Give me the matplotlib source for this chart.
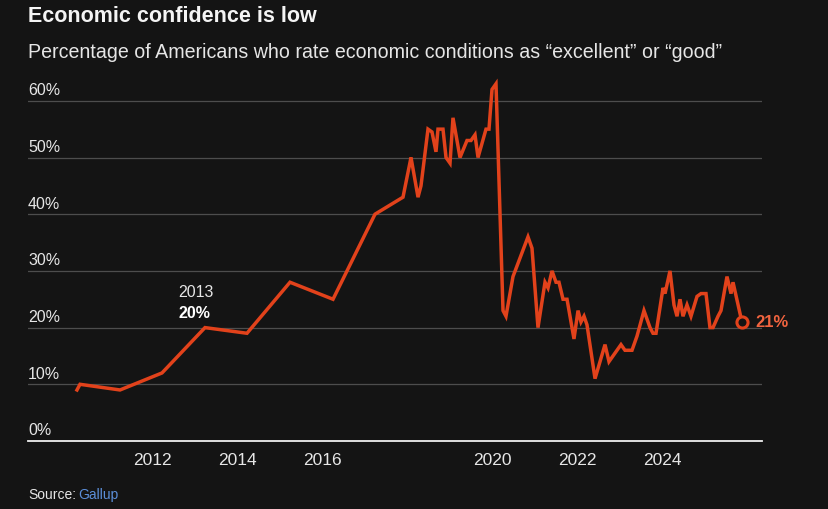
import matplotlib
matplotlib.use("Agg")
import matplotlib.pyplot as plt

years = [2010.235, 2010.306, 2011.247, 2012.235, 2013.247, 2014.235, 2015.247, 2016.259, 2017.247,
         2017.906, 2018.094, 2018.118, 2018.259, 2018.329, 2018.494, 2018.588, 2018.682, 2018.729,
         2018.847, 2018.918, 2019.012, 2019.082, 2019.247, 2019.412, 2019.506, 2019.600, 2019.671,
         2019.859, 2019.929, 2020.0, 2020.094, 2020.259, 2020.329, 2020.494, 2020.847, 2020.941,
         2021.082, 2021.247, 2021.318, 2021.412, 2021.506, 2021.576, 2021.671, 2021.765, 2021.929,
         2022.024, 2022.094, 2022.165, 2022.235, 2022.424, 2022.659, 2022.753, 2023.035, 2023.129,
         2023.294, 2023.412, 2023.576, 2023.718, 2023.788, 2023.859, 2024.024, 2024.071, 2024.188,
         2024.282, 2024.353, 2024.424, 2024.494, 2024.588, 2024.682, 2024.824, 2024.918, 2025.035,
         2025.129, 2025.2, 2025.318, 2025.388, 2025.529, 2025.624, 2025.671, 2025.88]
values = [9, 10, 9, 12, 20, 19, 28, 25, 40,
          43, 50, 49, 43, 45, 55, 54.5, 51, 55,
          55, 50, 49, 57, 50, 53, 53, 54, 50,
          55, 55, 62, 63, 23, 22, 29, 36, 34,
          20, 28, 27, 30, 28, 28, 25, 25, 18,
          23, 21, 22, 20.5, 11, 17, 14, 17, 16,
          16, 18.5, 23, 20, 19, 19, 27, 26, 30,
          24, 22, 25, 22, 24, 22, 25.5, 26, 26,
          20, 20, 22, 23, 29, 26, 28, 21]

tick_years = [2012, 2014, 2016, 2020, 2022, 2024]
tick_labels = ["2012", "2014", "2016", "2020", "2022", "2024"]
y_ticks = [0, 10, 20, 30, 40, 50, 60]
y_labels = ["0%", "10%", "20%", "30%", "40%", "50%", "60%"]

title = "Economic confidence is low"
subtitle = "Percentage of Americans who rate economic conditions as \u201cexcellent\u201d or \u201cgood\u201d"

regular = "Liberation Sans"

BG = "#141414"
LINE = "#e2421b"
TXT = "#e6e6e6"
GRID = "#4d4d4d"

W, H = 829, 510
fig = plt.figure(figsize=(W / 100, H / 100), dpi=100, facecolor=BG)
left, right, bottom_px, top_px = 28, 762, 442, 79
ax = fig.add_axes([left / W, 1 - bottom_px / H, (right - left) / W, (bottom_px - top_px) / H])
ax.set_facecolor(BG)

x0 = 2012 + (left - 152) / 42.5
x1 = 2012 + (right - 152) / 42.5
ax.set_xlim(x0, x1)
ax.set_ylim(0, (bottom_px - top_px) / 5.67)

for v in y_ticks[1:]:
    ax.axhline(v, color=GRID, lw=0.9, zorder=1)
for v, lab in zip(y_ticks, y_labels):
    ax.annotate(lab, xy=(0, v), xycoords=("axes fraction", "data"), xytext=(0, 8.0),
                textcoords="offset points", ha="left", va="center", color=TXT,
                fontsize=11.5, family=regular)

for s in ["top", "left", "right"]:
    ax.spines[s].set_visible(False)
ax.spines["bottom"].set_color("#f0f0f0")
ax.spines["bottom"].set_linewidth(1.3)
ax.set_yticks([])
ax.set_xticks(tick_years)
ax.set_xticklabels(tick_labels, color=TXT, fontsize=12.5, family=regular)
ax.tick_params(axis="x", length=0, pad=8)

ax.plot(years, values, color=LINE, lw=2.5, solid_joinstyle="miter", zorder=3)
ax.plot([years[-1]], [values[-1]], marker="o", ms=8, mfc=BG, mec=LINE, mew=2.2, zorder=4)
ax.annotate("21%", xy=(years[-1], values[-1]), xytext=(10, 0), textcoords="offset points",
            ha="left", va="center", color="#f2643f", fontsize=12, fontweight="bold", family=regular)

ax.annotate("2013", xy=(2013.247, 26.3), xytext=(-19, 0), textcoords="offset points",
            ha="left", va="center", color=TXT, fontsize=11.5, family=regular)
ax.annotate("20%", xy=(2013.247, 22.75), xytext=(-19, 0), textcoords="offset points",
            ha="left", va="center", color="#ffffff", fontsize=11.5, fontweight="bold", family=regular)

fig.text(28 / W, 1 - 17 / H, title, ha="left", va="center", color="#f4f4f4",
         fontsize=15.5, fontweight="bold", family=regular)
fig.text(28 / W, 1 - 53 / H, subtitle, ha="left", va="center", color=TXT,
         fontsize=14.1, family=regular)
src = fig.text(28 / W, 1 - 495 / H, "Source:", ha="left", va="center", color=TXT,
               fontsize=10, family=regular)
ax.annotate("Gallup", xy=(1, 0.5), xycoords=src, xytext=(1.5, 0), textcoords="offset points",
            ha="left", va="center", color="#5b8ed8", fontsize=10, family=regular,
            annotation_clip=False)

fig.savefig("out.png", dpi=100, facecolor=BG)
